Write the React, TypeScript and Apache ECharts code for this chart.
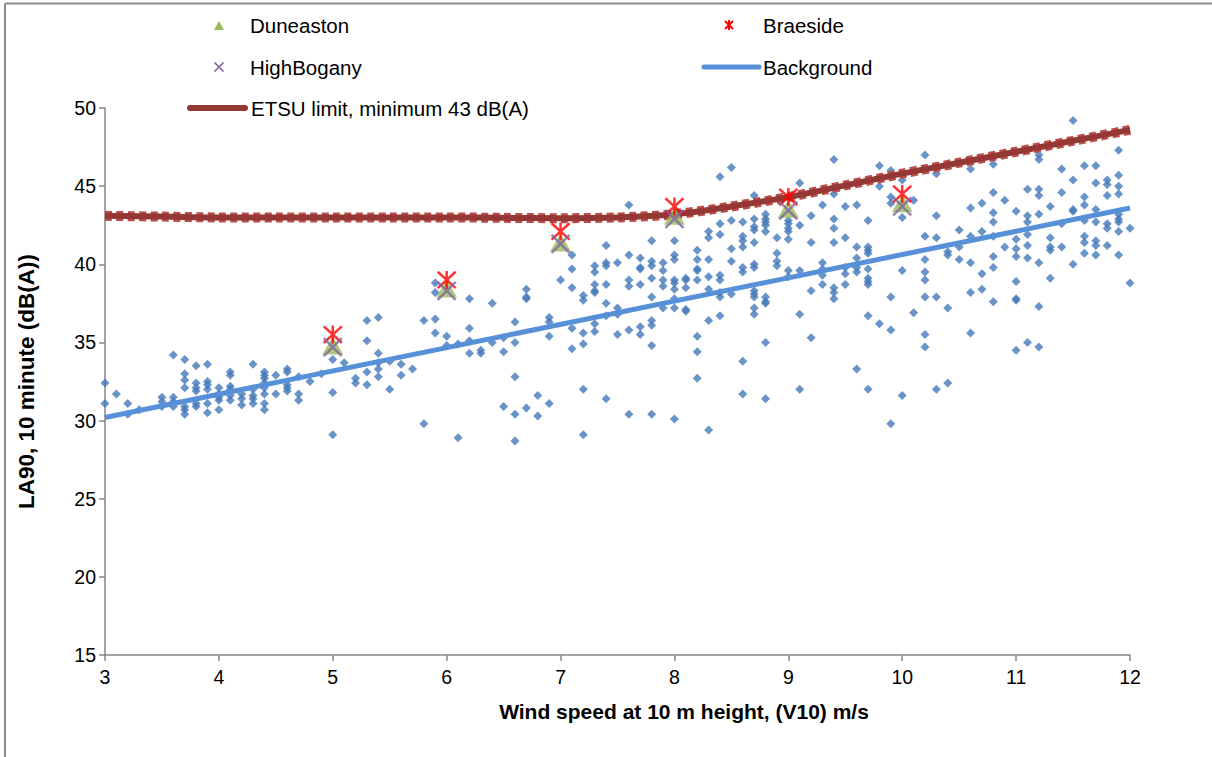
import React, { useEffect, useRef } from "react";
import * as echarts from "echarts";

// ---- Data ----
// Measured background LA90 (10 minute) readings, grouped by wind speed column
const lowWindReadings: [number, number[]][] = [
  [3.0, [32.4, 31.1]],
  [3.1, [31.7]],
  [3.2, [31.1, 30.4]],
  [3.3, [30.7]],
  [3.5, [31.5, 31.2, 30.9]],
  [3.6, [34.2, 31.5, 31.2, 30.9]],
  [3.7, [33.9, 33.0, 32.6, 32.1, 30.9, 30.7, 30.4]],
  [3.8, [33.5, 32.4, 32.1, 31.9, 31.1, 30.9]],
  [3.9, [33.6, 32.5, 32.3, 32.0, 31.1, 30.5]],
  [4.0, [32.1, 31.7, 31.5, 31.3, 30.7]],
  [4.1, [33.1, 32.9, 32.2, 32.0, 31.6, 31.3]],
  [4.2, [31.7, 31.4, 31.0]],
  [4.3, [33.6, 32.0, 31.6, 31.4, 31.1]],
  [4.4, [33.1, 32.9, 32.7, 32.4, 32.1, 31.7, 31.1, 30.7]],
  [4.5, [32.9, 31.7]],
  [4.6, [33.3, 33.1, 32.3, 32.1, 31.9]],
  [4.7, [32.8, 31.7, 31.3]],
  [4.8, [32.5]],
  [4.9, [33.0]],
  [5.0, [33.9, 31.8, 29.1]],
];

const midWindReadings: [number, number[]][] = [
  [5.1, [33.7]],
  [5.2, [32.7, 32.4]],
  [5.3, [36.4, 35.1, 33.1, 32.3]],
  [5.4, [36.6, 34.3, 33.7, 33.3, 32.8]],
  [5.5, [33.8, 32.0]],
  [5.6, [33.6, 32.9]],
  [5.7, [33.3]],
  [5.8, [36.4, 29.8]],
  [5.9, [38.8, 38.2, 36.5, 35.6]],
  [6.0, [35.4, 34.8]],
  [6.1, [34.9, 28.9]],
  [6.2, [37.8, 35.9, 35.1, 34.3]],
  [6.3, [34.5, 34.3]],
  [6.4, [37.5, 35.0]],
  [6.5, [35.3, 34.4, 30.9]],
  [6.6, [36.3, 35.0, 32.8, 30.4, 28.7]],
  [6.7, [38.4, 37.9, 37.8, 30.8]],
  [6.8, [31.6, 30.3]],
  [6.9, [36.6, 36.3, 35.4, 31.1]],
  [7.0, [39.0]],
  [7.1, [40.6, 39.7, 38.5, 35.9, 34.6]],
  [7.2, [38.0, 37.7, 35.6, 34.9, 32.0, 29.1]],
  [7.3, [39.9, 39.5, 38.7, 38.3, 38.2, 36.2, 35.7]],
  [7.4, [41.2, 40.1, 39.9, 38.7, 37.5, 36.7, 31.4]],
  [7.5, [40.1, 37.2, 36.8, 35.5]],
  [7.6, [43.8, 40.6, 39.0, 38.6, 35.8, 30.4]],
  [7.7, [40.4, 39.8, 39.7, 38.7, 36.0, 35.5]],
  [7.8, [41.5, 40.2, 39.9, 39.1, 37.9, 36.4, 36.1, 34.8, 30.4]],
  [7.9, [40.1, 39.6, 39.0, 38.6, 37.2]],
  [8.0, [41.5, 40.6, 40.3, 39.0, 38.8, 38.4, 37.8, 37.2, 30.1]],
];

const highWindReadings: [number, number[]][] = [
  [8.1, [39.1, 39.0, 38.5, 37.1, 37.0]],
  [8.2, [40.9, 40.3, 39.7, 39.6, 39.0, 35.4, 34.4, 32.7]],
  [8.3, [42.1, 41.7, 40.3, 39.2, 38.4, 36.4, 29.4]],
  [8.4, [45.6, 42.6, 41.9, 39.3, 39.0, 38.2, 37.9, 36.7]],
  [8.5, [46.2, 42.8, 41.0, 40.2, 38.1]],
  [8.6, [42.7, 41.8, 41.5, 41.1, 39.8, 39.5, 33.8, 31.7]],
  [8.7, [44.4, 42.9, 42.4, 42.2, 41.4, 40.0, 39.8, 38.3, 38.1, 37.9, 37.2, 36.8]],
  [8.8, [43.2, 42.9, 42.7, 42.5, 42.1, 37.9, 37.6, 37.5, 35.0, 31.4]],
  [8.9, [41.7, 40.7, 40.2, 39.9]],
  [9.0, [42.8, 42.6, 42.3, 42.1, 41.6, 39.6, 39.2]],
  [9.1, [45.2, 42.5, 39.6, 36.8, 32.0]],
  [9.2, [43.1, 41.4, 38.3, 35.3]],
  [9.3, [43.8, 40.1, 39.7, 39.3, 38.7]],
  [9.4, [46.7, 44.5, 42.9, 42.3, 41.4, 38.5, 38.2, 37.8]],
  [9.5, [43.7, 41.7, 39.8, 39.4, 38.7]],
  [9.6, [43.8, 41.1, 40.4, 39.8, 39.5, 33.3]],
  [9.7, [42.8, 41.1, 40.9, 40.7, 39.7, 39.1, 38.9, 38.7, 36.7, 32.0]],
  [9.8, [46.3, 45.0, 36.2]],
  [9.9, [46.0, 44.3, 43.9, 37.9, 35.8, 29.8]],
  [10.0, [45.4, 43.0, 39.6, 31.6]],
  [10.1, [44.1, 36.9]],
  [10.2, [47.0, 41.8, 40.3, 39.5, 39.0, 37.9, 35.5, 34.7]],
  [10.3, [45.8, 43.1, 41.7, 37.9, 32.0]],
  [10.4, [40.8, 40.6, 37.2, 32.4]],
  [10.5, [46.5, 42.2, 41.1, 40.3]],
  [10.6, [46.1, 43.6, 41.8, 40.1, 38.2, 35.6]],
  [10.7, [43.9, 42.1, 39.4, 38.4]],
  [10.8, [46.4, 44.6, 43.3, 42.7, 41.8, 40.5, 39.8, 37.6]],
  [10.9, [44.1, 41.1]],
  [11.0, [43.4, 41.6, 41.0, 40.5, 38.9, 37.8, 37.7, 34.5]],
  [11.1, [44.8, 43.1, 42.7, 41.9, 41.2, 40.4, 35.0]],
  [11.2, [47.0, 46.7, 44.8, 44.4, 43.2, 40.1, 37.3, 34.7]],
  [11.3, [43.7, 41.7, 41.1, 40.9, 39.1]],
  [11.4, [46.1, 44.6, 42.6, 41.1]],
  [11.5, [49.2, 45.4, 43.5, 43.4, 40.0]],
  [11.6, [46.3, 44.3, 43.8, 42.8, 41.8, 41.4, 40.7]],
  [11.7, [46.3, 45.2, 43.5, 42.7, 41.5, 41.2, 40.6]],
  [11.8, [45.4, 45.1, 44.4, 42.6, 42.3, 41.2]],
  [11.9, [47.3, 45.7, 45.0, 44.5, 43.2, 42.9, 42.7, 42.1, 40.6]],
  [12.0, [42.3, 38.8]],
];

// Background trend line
const backgroundWind = [3, 12];
const backgroundLevel = [30.2, 43.6];

// ETSU limit curve
const etsuWind = [3, 3.5, 4, 4.5, 5, 5.5, 6, 6.5, 7, 7.5, 8, 8.5, 9, 9.5, 10, 10.5, 11, 11.5, 12];
const etsuLimit = [43.1, 43.05, 43.0, 43.0, 43.0, 43.0, 43.0, 42.97, 42.95, 43.0, 43.2, 43.7, 44.3, 45.05, 45.8, 46.5, 47.2, 47.9, 48.6];

// Turbine predictions
const turbineWind = [5, 6, 7, 8, 9, 10];
const duneaston = [34.8, 38.45, 41.4, 43.1, 43.55, 43.9];
const braeside = [35.5, 39.0, 42.1, 43.7, 44.3, 44.5];
const highBogany = [34.7, 38.3, 41.3, 42.9, 43.45, 43.7];

// Axis settings
const xMin = 3;
const xMax = 12;
const xStep = 1;
const yMin = 15;
const yMax = 50;
const yStep = 5;

const xTitle = "Wind speed at 10 m height, (V10) m/s";
const yTitle = "LA90, 10 minute (dB(A))";
const etsuName = "ETSU limit, minimum 43 dB(A)";

const FONT = "'Liberation Sans', Arial, sans-serif";

const zip = (xs: number[], ys: number[]) => xs.map((x, i) => [x, ys[i]]);
const flatten = (cols: [number, number[]][]) =>
  cols.flatMap(([x, ys]) => ys.map((y) => [x, y]));

const asteriskPath = "path://M0,0L10,10M10,0L0,10M5,-0.5L5,10.5";
const crossPath = "path://M0,0L10,10M10,0L0,10";

export default function App() {
  const ref = useRef<HTMLDivElement>(null);

  useEffect(() => {
    if (!ref.current) return;
    const chart = echarts.init(ref.current, undefined, { renderer: "svg" });

    const measured = [
      ...flatten(lowWindReadings),
      ...flatten(midWindReadings),
      ...flatten(highWindReadings),
    ];
    const etsu = zip(etsuWind, etsuLimit);

    const legendText = (x: number, y: number, text: string) => ({
      type: "text",
      x,
      y,
      style: {
        text,
        fontSize: 20.5,
        fontFamily: FONT,
        fill: "#000",
        textVerticalAlign: "middle",
        verticalAlign: "middle",
        align: "left",
      },
    });

    const option: any = {
      animation: false,
      backgroundColor: "#fff",
      grid: { left: 105, right: 82, top: 108, bottom: 102, containLabel: false },
      xAxis: {
        type: "value",
        min: xMin,
        max: xMax,
        interval: xStep,
        name: xTitle,
        nameLocation: "middle",
        nameGap: 46,
        nameTextStyle: {
          fontFamily: FONT,
          fontSize: 21,
          fontWeight: "bold",
          color: "#000",
          padding: [0, 0, 0, 133],
        },
        axisLine: { show: true, onZero: false, lineStyle: { color: "#868686", width: 1.5 } },
        axisTick: { show: true, length: 6, lineStyle: { color: "#868686", width: 1.5 } },
        axisLabel: { fontFamily: FONT, fontSize: 19.5, color: "#000", margin: 12 },
        splitLine: { show: false },
      },
      yAxis: {
        type: "value",
        min: yMin,
        max: yMax,
        interval: yStep,
        name: yTitle,
        nameLocation: "middle",
        nameGap: 67,
        nameTextStyle: {
          fontFamily: FONT,
          fontSize: 22.5,
          fontWeight: "bold",
          color: "#000",
        },
        axisLine: { show: true, onZero: false, lineStyle: { color: "#868686", width: 1.5 } },
        axisTick: { show: true, length: 6, lineStyle: { color: "#868686", width: 1.5 } },
        axisLabel: { fontFamily: FONT, fontSize: 19.5, color: "#000", margin: 9 },
        splitLine: { show: false },
      },
      graphic: [
        {
          type: "line",
          shape: { x1: 5, y1: 3.5, x2: 1212, y2: 3.5 },
          style: { stroke: "#8c8c8c", lineWidth: 2 },
          silent: true,
        },
        {
          type: "line",
          shape: { x1: 5, y1: 3.5, x2: 5, y2: 757 },
          style: { stroke: "#8c8c8c", lineWidth: 2 },
          silent: true,
        },
        // Legend: Duneaston
        {
          type: "polygon",
          shape: { points: [[214, 30], [224, 30], [219, 21]] },
          style: { fill: "#9BBB59" },
        },
        legendText(250, 25, "Duneaston"),
        // Legend: Braeside
        {
          type: "line",
          shape: { x1: 725, y1: 21, x2: 733, y2: 29 },
          style: { stroke: "#FF0000", lineWidth: 2 },
        },
        {
          type: "line",
          shape: { x1: 733, y1: 21, x2: 725, y2: 29 },
          style: { stroke: "#FF0000", lineWidth: 2 },
        },
        {
          type: "line",
          shape: { x1: 729, y1: 20, x2: 729, y2: 30 },
          style: { stroke: "#FF0000", lineWidth: 2 },
        },
        legendText(763, 25, "Braeside"),
        // Legend: HighBogany
        {
          type: "line",
          shape: { x1: 214.5, y1: 62.5, x2: 223.5, y2: 71.5 },
          style: { stroke: "#8064A2", lineWidth: 1.6 },
        },
        {
          type: "line",
          shape: { x1: 223.5, y1: 62.5, x2: 214.5, y2: 71.5 },
          style: { stroke: "#8064A2", lineWidth: 1.6 },
        },
        legendText(250, 67, "HighBogany"),
        // Legend: Background
        {
          type: "line",
          shape: { x1: 704, y1: 67, x2: 759, y2: 67 },
          style: { stroke: "#5690D8", lineWidth: 5, lineCap: "round" },
        },
        legendText(763, 67, "Background"),
        // Legend: ETSU
        {
          type: "line",
          shape: { x1: 190, y1: 108, x2: 245, y2: 108 },
          style: { stroke: "#953735", lineWidth: 6, lineCap: "round" },
        },
        legendText(251, 108, etsuName),
      ],
      series: [
        {
          type: "scatter",
          name: "Measured background",
          data: measured,
          symbol: "diamond",
          symbolSize: 9,
          itemStyle: { color: "#4579B9" },
          z: 2,
        },
        {
          type: "line",
          name: "Background",
          data: zip(backgroundWind, backgroundLevel),
          symbol: "none",
          lineStyle: { color: "#5690D8", width: 5 },
          z: 3,
        },
        {
          type: "line",
          name: "ETSU markers",
          data: etsu,
          smooth: 0.3,
          symbol: "none",
          lineStyle: { color: "#BB4E4B", width: 10, type: [7, 4.4] },
          z: 4,
        },
        {
          type: "line",
          name: etsuName,
          data: etsu,
          smooth: 0.3,
          symbol: "none",
          lineStyle: { color: "#953735", width: 6 },
          z: 5,
        },
        {
          type: "scatter",
          name: "Duneaston",
          data: zip(turbineWind, duneaston),
          symbol: "triangle",
          symbolSize: [21, 18],
          itemStyle: { color: "#9BBB59" },
          z: 6,
        },
        {
          type: "scatter",
          name: "Braeside",
          data: zip(turbineWind, braeside),
          symbol: asteriskPath,
          symbolSize: 18,
          itemStyle: { color: "none", borderColor: "#FF0000", borderWidth: 2.5 },
          z: 7,
        },
        {
          type: "scatter",
          name: "HighBogany",
          data: zip(turbineWind, highBogany),
          symbol: crossPath,
          symbolSize: 18,
          itemStyle: { color: "none", borderColor: "#8064A2", borderWidth: 2.5 },
          z: 8,
        },
      ],
    };

    chart.setOption(option);
    return () => chart.dispose();
  }, []);

  return (
    <div
      ref={ref}
      style={{ position: "absolute", left: 0, top: 0, width: 1212, height: 757 }}
    />
  );
}
